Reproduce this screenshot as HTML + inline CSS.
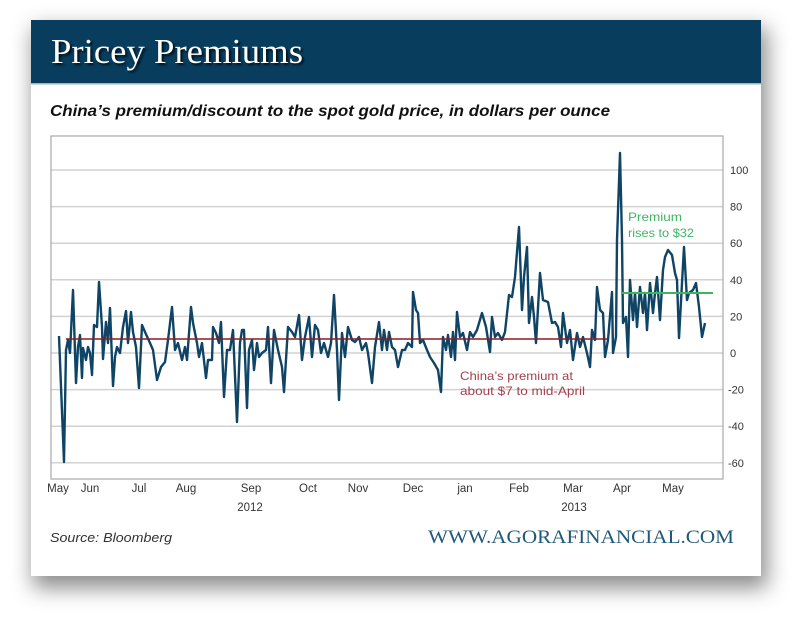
<!DOCTYPE html>
<html>
<head>
<meta charset="utf-8">
<style>
  html,body{margin:0;padding:0;background:#fff;}
  body{width:800px;height:620px;position:relative;overflow:hidden;}
  .card{position:absolute;left:31px;top:20px;width:730px;height:556px;background:#fff;
        box-shadow:4px 10px 20px 2px rgba(0,0,0,0.45);}
  svg{position:absolute;left:0;top:0;}
</style>
</head>
<body>
<div class="card"></div>
<svg width="800" height="620" viewBox="0 0 800 620" xmlns="http://www.w3.org/2000/svg">
  <defs>
    <filter id="ts" x="-5%" y="-20%" width="110%" height="140%">
      <feGaussianBlur stdDeviation="1"/>
    </filter>
  </defs>
  <!-- header -->
  <rect x="31" y="20" width="730" height="63.5" fill="#083d5d"/>
  <rect x="31" y="83" width="730" height="1.5" fill="#9fb3c2"/>
  <text x="53" y="65" font-family="Liberation Serif, serif" font-size="35" fill="#000" opacity="0.75" filter="url(#ts)" textLength="252" lengthAdjust="spacingAndGlyphs">Pricey Premiums</text>
  <text x="51" y="63" font-family="Liberation Serif, serif" font-size="35" fill="#fff" textLength="252" lengthAdjust="spacingAndGlyphs">Pricey Premiums</text>

  <!-- subtitle -->
  <text x="50" y="116" font-family="Liberation Sans, sans-serif" font-size="15.5" font-weight="bold" font-style="italic" fill="#111" textLength="560" lengthAdjust="spacingAndGlyphs">China’s premium/discount to the spot gold price, in dollars per ounce</text>

  <!-- grid -->
  <g stroke="#d2d2d2" stroke-width="1.5">
    <line x1="51" x2="723" y1="170" y2="170"/>
    <line x1="51" x2="723" y1="206.6" y2="206.6"/>
    <line x1="51" x2="723" y1="243.2" y2="243.2"/>
    <line x1="51" x2="723" y1="279.8" y2="279.8"/>
    <line x1="51" x2="723" y1="316.4" y2="316.4"/>
    <line x1="51" x2="723" y1="353" y2="353"/>
    <line x1="51" x2="723" y1="389.6" y2="389.6"/>
    <line x1="51" x2="723" y1="426.2" y2="426.2"/>
    <line x1="51" x2="723" y1="462.8" y2="462.8"/>
  </g>
  <rect x="51" y="136" width="672" height="343" fill="none" stroke="#a8a8a8" stroke-width="1.2"/>

  <!-- y labels -->
  <g font-family="Liberation Sans, sans-serif" font-size="11" fill="#333">
    <text x="730" y="174">100</text>
    <text x="730" y="210.6">80</text>
    <text x="730" y="247.2">60</text>
    <text x="730" y="283.8">40</text>
    <text x="730" y="320.4">20</text>
    <text x="730" y="357">0</text>
    <text x="728" y="393.6">-20</text>
    <text x="728" y="430.2">-40</text>
    <text x="728" y="466.8">-60</text>
  </g>

  <!-- x labels -->
  <g font-family="Liberation Sans, sans-serif" font-size="11.5" fill="#333" text-anchor="middle">
    <text x="58" y="492">May</text>
    <text x="90" y="492">Jun</text>
    <text x="139" y="492">Jul</text>
    <text x="186" y="492">Aug</text>
    <text x="251" y="492">Sep</text>
    <text x="308" y="492">Oct</text>
    <text x="358" y="492">Nov</text>
    <text x="413" y="492">Dec</text>
    <text x="465" y="492">jan</text>
    <text x="519" y="492">Feb</text>
    <text x="573" y="492">Mar</text>
    <text x="622" y="492">Apr</text>
    <text x="673" y="492">May</text>
    <text x="250" y="511">2012</text>
    <text x="574" y="511">2013</text>
  </g>

  <!-- data line -->
  <polyline fill="none" stroke="#0f4465" stroke-width="2.4" stroke-linejoin="round" points="
59,336 64,462 66,350 68,340 70,353 73,290 76,383 78,347 80,335 82,378 83,348 86,360 88,347 90,353 92,375 94,325 97,327 99,282 102,327 103,359 106,322 108,343 110,308 113,386 115,357 117,347 120,353 123,327 126,311 128,343 131,312 133,332 136,347 139,388 142,325 145,332 150,343 153,350 157,380 161,367 165,362 168,340 172,307 175,350 178,343 182,360 185,347 187,360 191,307 193,323 197,343 199,357 202,343 206,378 208,360 212,360 213,327 216,333 219,343 221,322 224,397 227,350 230,350 233,330
237,422 240,343 242,330 244,330 247,408 249,350 252,340 254,370 257,343 259,357 262,353 266,350 268,327 271,383 274,330 278,350 282,367 284,392 288,327 292,332 295,337 299,315 302,360 305,337 309,317 312,357 315,325 318,330 321,353 324,343 328,357 331,343 334,295 337,350 339,400 342,333 345,357 348,327 352,340 355,342 359,337 362,350 366,343 368,353 372,383 375,347 379,322 382,350 384,330 387,350 389,332 392,347 395,350 398,367 402,350 405,350 408,343 412,347 413,292 416,310 418,313 420,343 423,340 427,350 430,357 434,363 438,370 441,392 443,337 446,350 448,335 451,357 453,332 455,360 457,312 460,337 463,333 467,350 470,332 473,337 477,330 482,313 486,327 490,352 492,317 495,337 498,333 502,340 505,332 509,295 512,297 515,277 519,227 522,310 524,277 527,247 529,323 532,297 534,317 536,343 540,273 543,300 548,302 552,323 555,322 558,327 561,347 563,313
567,343 570,330 573,360 577,333 580,347 583,337 587,353 590,367 592,330 595,340 597,287 600,310 603,313 605,357 608,340 612,292 613,353 616,337 617,240 620,153 622,240 623,323 626,317 628,357 630,280 633,320 635,293 637,327 640,287 643,313 645,293 647,330 650,283 653,313 655,293 657,277 660,320 663,270 665,257 668,250 672,255 675,273 677,280 679,338 682,283 684,247 687,300 689,293 693,290 696,283 699,307 702,337 705,323"/>

  <!-- reference lines -->
  <line x1="66" x2="607" y1="339" y2="339" stroke="#8b1c24" stroke-width="1.6"/>
  <line x1="622" x2="713" y1="293" y2="293" stroke="#3cb65a" stroke-width="2"/>

  <!-- annotations -->
  <g font-family="Liberation Sans, sans-serif" font-size="12">
    <text x="628" y="221" fill="#3fb565" textLength="54" lengthAdjust="spacingAndGlyphs">Premium</text>
    <text x="628" y="237" fill="#3fb565" textLength="66" lengthAdjust="spacingAndGlyphs">rises to $32</text>
    <text x="460" y="380" fill="#a3414b" textLength="113" lengthAdjust="spacingAndGlyphs">China’s premium at</text>
    <text x="460" y="395" fill="#a3414b" textLength="125" lengthAdjust="spacingAndGlyphs">about $7 to mid-April</text>
  </g>

  <!-- footer -->
  <text x="50" y="542" font-family="Liberation Sans, sans-serif" font-size="13" font-style="italic" fill="#333" textLength="122" lengthAdjust="spacingAndGlyphs">Source: Bloomberg</text>
  <text x="428" y="543" font-family="Liberation Serif, serif" font-size="19" fill="#1f5878" textLength="306" lengthAdjust="spacingAndGlyphs">WWW.AGORAFINANCIAL.COM</text>
</svg>
</body>
</html>
